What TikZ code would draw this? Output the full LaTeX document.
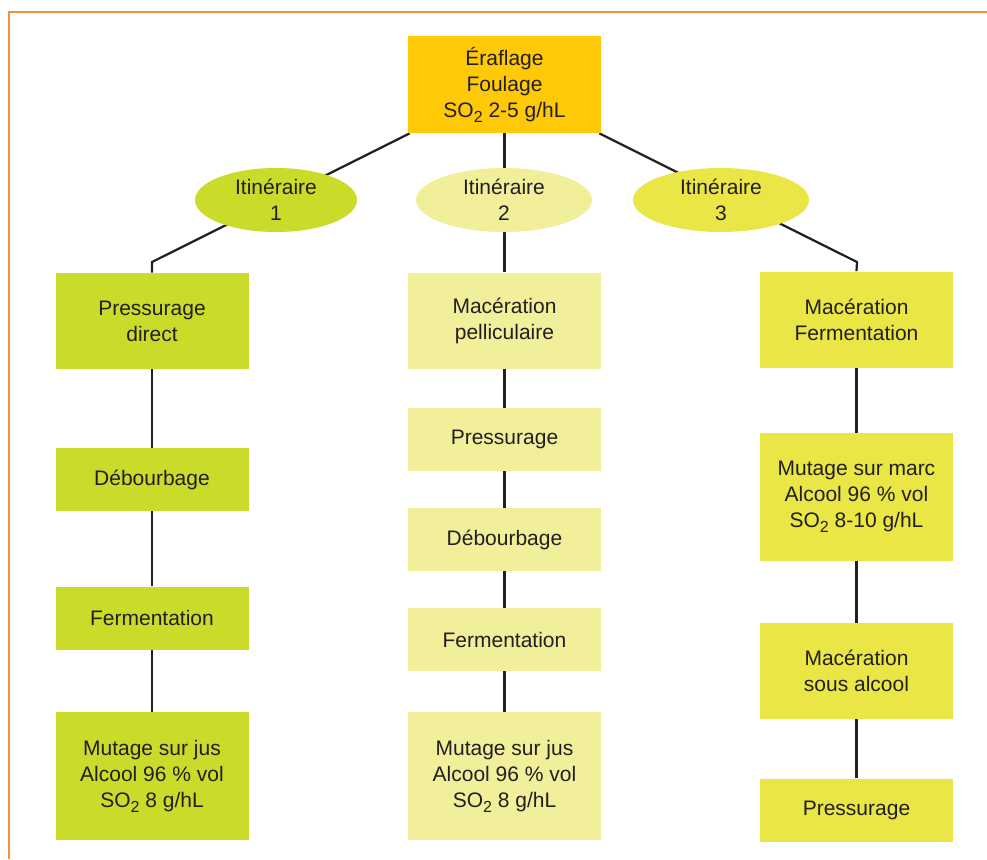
\documentclass[tikz,border=0pt]{standalone}
\usepackage{fontspec}
\setmainfont{Liberation Sans}
\usetikzlibrary{shapes,positioning,backgrounds}
\definecolor{limegreen}{RGB}{203,219,42}
\definecolor{paleyellow}{RGB}{242,239,155}
\definecolor{brightyellow}{RGB}{233,230,69}
\definecolor{goldtop}{RGB}{255,201,7}
\definecolor{framecolor}{RGB}{247,145,61}
\definecolor{linkgray}{RGB}{35,31,32}
\newcommand{\sotwo}{SO\raisebox{-0.45ex}{\fontsize{8}{8}\selectfont 2}}

\begin{document}
\begin{tikzpicture}[
    x=0.5pt, y=-0.5pt,
    every node/.style={font=\fontsize{10.5}{13}\selectfont, text=linkgray, align=center},
    etape/.style={rectangle, minimum width=96.5pt, inner sep=0pt},
    short/.style={etape, minimum height=31.5pt},
    medium/.style={etape, minimum height=48pt},
    tall/.style={etape, minimum height=64pt},
    iti/.style={ellipse, inner sep=0pt, minimum height=32pt},
    lien/.style={line width=1.1pt, color=linkgray},
    cadre/.style={line width=1pt, color=framecolor}
]
\useasboundingbox (0,0) rectangle (987,859);

% Frame
\draw[cadre] (987,12) -- (9,12) -- (9,859);

% Top step
\node[etape, fill=goldtop, minimum height=48.5pt] (top) at (504.5,84.5)
     {\'Eraflage\\Foulage\\\sotwo{} 2-5 g/hL};

% Itineraries
\node[iti, fill=limegreen, minimum width=81pt] (it1) at (276,200) {Itin\'eraire\\1};
\node[iti, fill=paleyellow, minimum width=88pt] (it2) at (504,200) {Itin\'eraire\\2};
\node[iti, fill=brightyellow, minimum width=88pt] (it3) at (721,200) {Itin\'eraire\\3};

% Itineraire 1
\node[medium, fill=limegreen] (p1) at (152,321) {Pressurage\\direct};
\node[short, fill=limegreen] (deb1) at (152,479.5) {D\'ebourbage};
\node[short, fill=limegreen] (ferm1) at (152,618) {Fermentation};
\node[tall, fill=limegreen] (mut1) at (152,776) {Mutage sur jus\\Alcool 96 \% vol\\\sotwo{} 8 g/hL};

% Itineraire 2
\node[medium, fill=paleyellow] (mac2) at (504.5,320.5) {Mac\'eration\\pelliculaire};
\node[short, fill=paleyellow] (press2) at (504.5,439.5) {Pressurage};
\node[short, fill=paleyellow] (deb2) at (504.5,539.5) {D\'ebourbage};
\node[short, fill=paleyellow] (ferm2) at (504.5,639.5) {Fermentation};
\node[tall, fill=paleyellow] (mut2) at (504.5,776) {Mutage sur jus\\Alcool 96 \% vol\\\sotwo{} 8 g/hL};

% Itineraire 3
\node[medium, fill=brightyellow] (mac3) at (856.5,319.5) {Mac\'eration\\Fermentation};
\node[tall, fill=brightyellow] (mut3) at (856.5,497) {Mutage sur marc\\Alcool 96 \% vol\\\sotwo{} 8-10 g/hL};
\node[medium, fill=brightyellow] (macsous3) at (856.5,671) {Mac\'eration\\sous alcool};
\node[short, fill=brightyellow] (press3) at (856.5,810) {Pressurage};

% Connectors (behind the nodes)
\coordinate (coin1) at (152,262);
\coordinate (coin3) at (857,262);
\begin{scope}[on background layer]
\draw[lien] ([xshift=1pt]top.south west) -- (coin1) -- (p1.north);
\draw[lien] ([xshift=-1pt]top.south east) -- (coin3) -- (mac3.north);
\draw[lien] (top) -- (mac2);
\draw[lien] (p1) -- (deb1) -- (ferm1) -- (mut1);
\draw[lien] (mac2) -- (press2) -- (deb2) -- (ferm2) -- (mut2);
\draw[lien] (mac3) -- (mut3) -- (macsous3) -- (press3);
\end{scope}

\end{tikzpicture}
\end{document}
